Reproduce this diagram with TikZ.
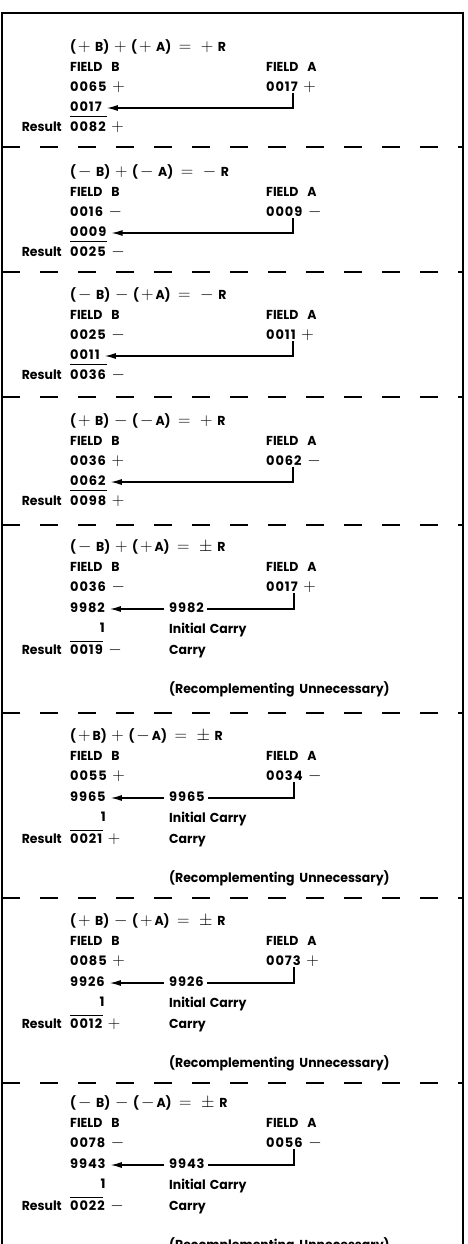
\documentclass[tikz,border=0pt]{standalone}
\usepackage{fontspec}
\setmainfont{Poppins}
\usetikzlibrary{arrows.meta}
\newcommand{\opsign}[1]{\hspace{2pt}{\fontsize{16}{16}\selectfont$#1$}\hspace{2pt}}
\tikzset{txt/.style={anchor=west,inner sep=0pt,text height=1.6ex,text depth=.3ex,font=\fontsize{13}{15}\selectfont\bfseries\addfontfeature{FakeStretch=0.96}},
         num/.style={txt,font=\fontsize{13}{15}\selectfont\bfseries\addfontfeature{LetterSpace=7}},
         pointer/.style={line width=1.2pt,-{Latex[length=11pt,width=6pt]}},
         rule/.style={line width=1.2pt},
         sep/.style={line width=1.2pt,dash pattern=on 18pt off 20pt}}
\newcommand{\signedcase}[7]{%
                    \node[txt](eq#1)at(70,#2){#3};
                    \node[txt](fb#1)at(70,#2+20){FIELD\hspace{9pt}B};
                    \node[txt](fa#1)at(266,#2+20){FIELD\hspace{9pt}A};
                    \node[num](vb#1)at(70,#2+40){#4};
                    \node[num](va#1)at(266,#2+40){#5};
                    \node[num](ad#1)at(70,#2+60){#6};
                    \node[txt,anchor=east](rl#1)at(62,#2+80){Result};
                    \node[num](rv#1)at(70,#2+80){#7};
                    \draw[pointer]([xshift=27pt]va#1.south west)|-([xshift=5pt]ad#1.east);
                    \draw[rule]([yshift=-3pt]ad#1.south west)--+(37,0);}
\newcommand{\complcase}[7]{%
                    \node[txt](eq#1)at(70,#2){#3};
                    \node[txt](fb#1)at(70,#2+20){FIELD\hspace{9pt}B};
                    \node[txt](fa#1)at(266,#2+20){FIELD\hspace{9pt}A};
                    \node[num](vb#1)at(70,#2+40){#4};
                    \node[num](va#1)at(266,#2+40){#5};
                    \node[num](ad#1)at(70,#2+61){#6};
                    \node[num](cm#1)at(169,#2+61){#6};
                    \node[num,anchor=north east](one#1)at([yshift=-9.5pt]ad#1.south east){1};
                    \node[txt](ic#1)at(169,#2+82){Initial\hspace{4pt}Carry};
                    \node[txt,anchor=east](rl#1)at(62,#2+103){Result};
                    \node[num](rv#1)at(70,#2+103){#7};
                    \node[txt](ca#1)at(169,#2+103){Carry};
                    \node[txt](rc#1)at(169,#2+142){(Recomplementing\hspace{5pt}Unnecessary)};
                    \draw[rule]([xshift=28pt]va#1.south west)|-([xshift=3pt]cm#1.east);
                    \draw[pointer]([xshift=-5pt]cm#1.west)--([xshift=5pt]ad#1.east);
                    \draw[rule]([yshift=4pt]rv#1.north west)--+(33,0);}

\begin{document}
\begin{tikzpicture}[x=1pt,y=-1pt]
                    \clip(0,0)rectangle(468,1244);
                    \draw[rule](2,1250)|-(463,13)--(463,1250);
                    \draw[sep](2,147)--(463,147);
                    \draw[sep](2,272)--(463,272);
                    \draw[sep](2,397)--(463,397);
                    \draw[sep](2,525)--(463,525);
                    \draw[sep](2,713)--(463,713);
                    \draw[sep](2,898)--(463,898);
                    \draw[sep](2,1083)--(463,1083);
                    \signedcase{1}{48}{(\opsign{+} B) \opsign{+} (\opsign{+} A) \opsign{\,=\,} \opsign{+} R}{0065 \opsign{+}}{0017 \opsign{+}}{0017}{0082 \opsign{+}}
                    \signedcase{2}{173}{(\opsign{-} B) \opsign{+} (\opsign{-} A) \opsign{\,=\,} \opsign{-} R}{0016 \opsign{-}}{0009 \opsign{-}}{0009}{0025 \opsign{-}}
                    \signedcase{3}{296}{(\opsign{-} B) \opsign{-} (\opsign{+}A) \opsign{\,=\,} \opsign{-} R}{0025 \opsign{-}}{0011 \opsign{+}}{0011}{0036 \opsign{-}}
                    \signedcase{4}{422}{(\opsign{+} B) \opsign{-} (\opsign{-}A) \opsign{\,=\,} \opsign{+} R}{0036 \opsign{+}}{0062 \opsign{-}}{0062}{0098 \opsign{+}}
                    \complcase{5}{548}{(\opsign{-} B) \opsign{+} (\opsign{+}A) \opsign{\,=\,} \opsign{\pm} R}{0036 \opsign{-}}{0017 \opsign{+}}{9982}{0019 \opsign{-}}
                    \complcase{6}{737}{(\opsign{+}B) \opsign{+} (\opsign{-}A) \opsign{\,=\,} \opsign{\pm} R}{0055 \opsign{+}}{0034 \opsign{-}}{9965}{0021 \opsign{+}}
                    \complcase{7}{922}{(\opsign{+} B) \opsign{-} (\opsign{+}A) \opsign{\,=\,} \opsign{\pm} R}{0085 \opsign{+}}{0073 \opsign{+}}{9926}{0012 \opsign{+}}
                    \complcase{8}{1104}{(\opsign{-} B) \opsign{-} (\opsign{-}A) \opsign{\,=\,} \opsign{\pm} R}{0078 \opsign{-}}{0056 \opsign{-}}{9943}{0022 \opsign{-}}
\end{tikzpicture}
\end{document}
